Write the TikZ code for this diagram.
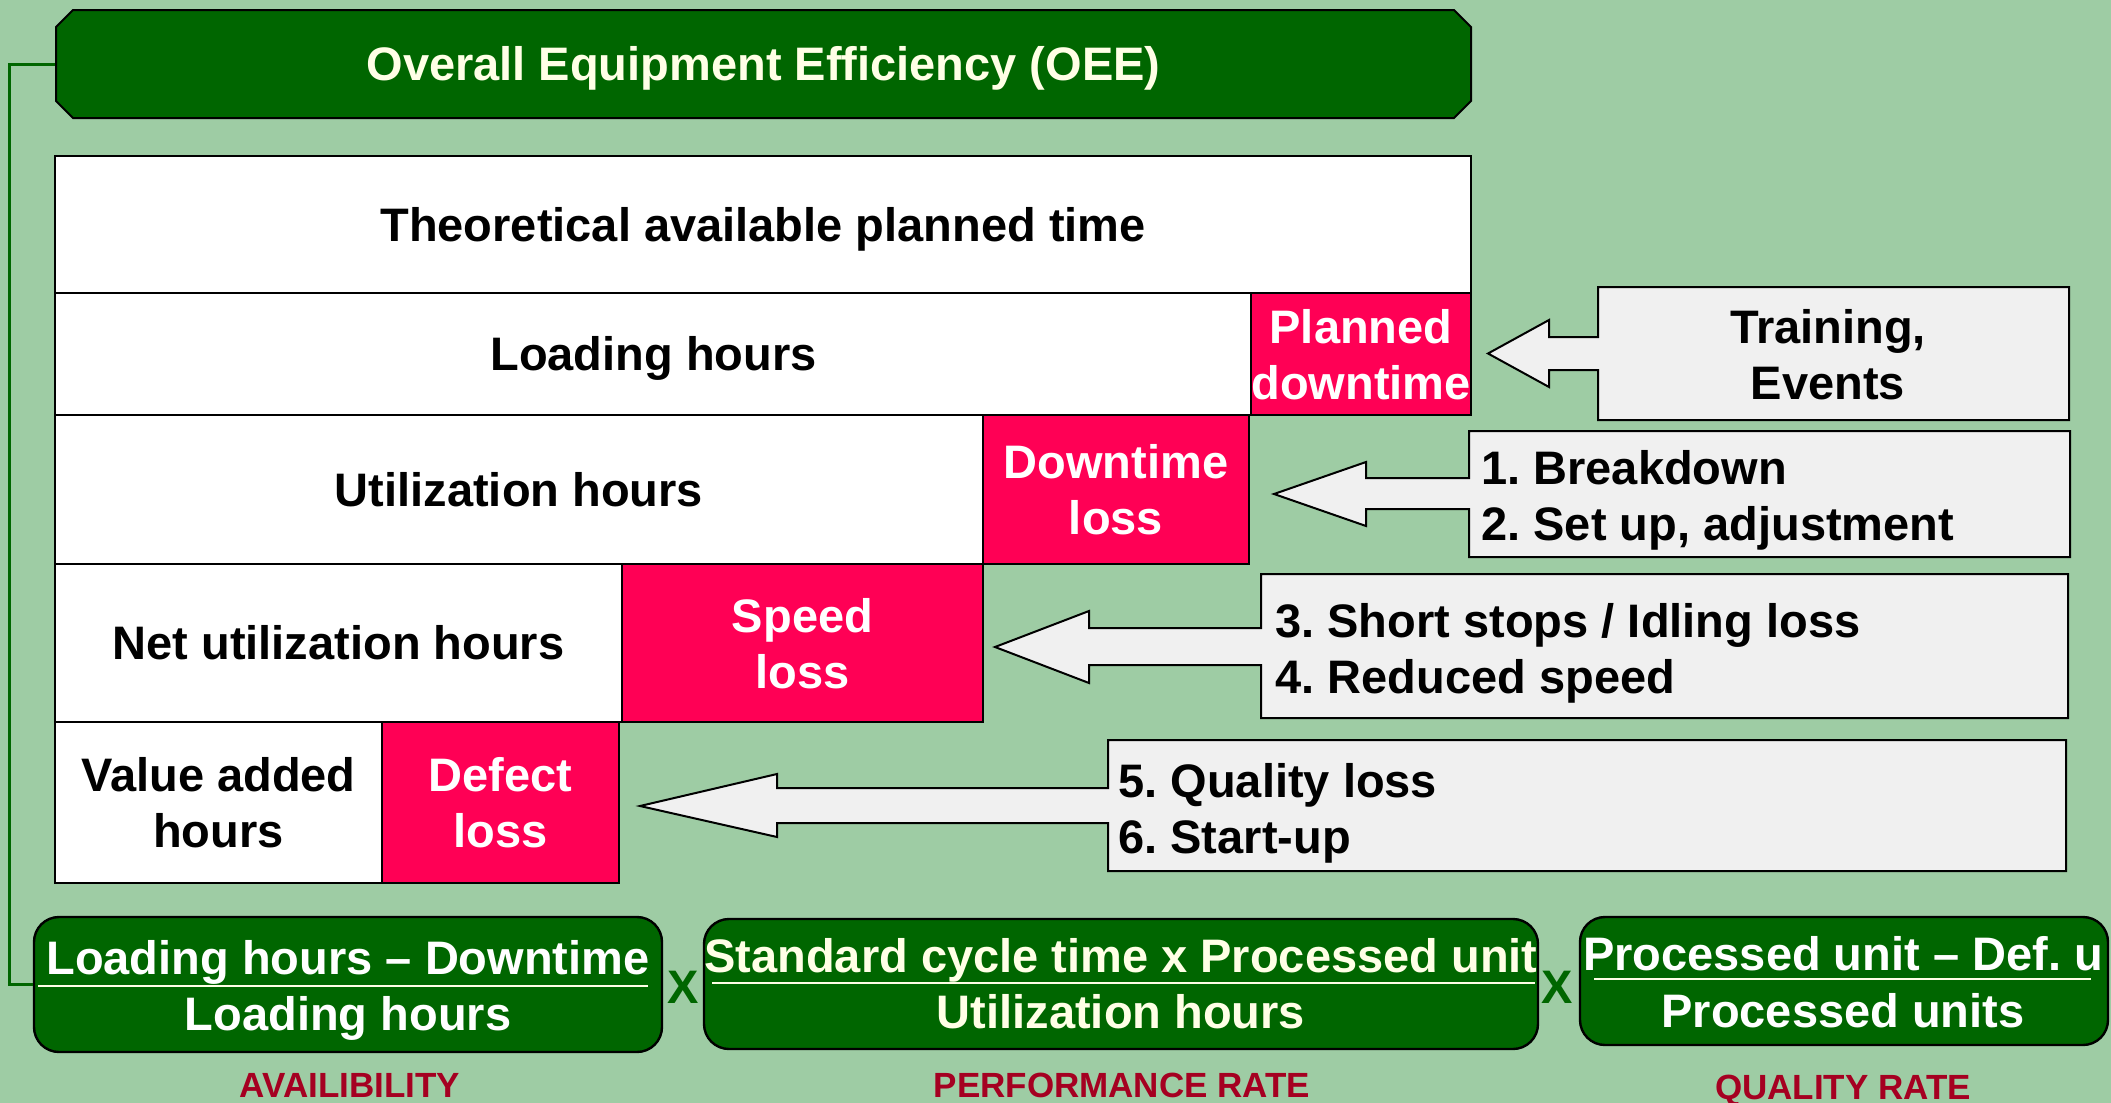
\documentclass[tikz,border=0pt]{standalone}
\usepackage{fontspec}
\setmainfont{Liberation Sans}
\usetikzlibrary{shapes.misc}
\definecolor{bgc}{HTML}{9ECCA4}
\definecolor{dkg}{HTML}{006600}
\definecolor{pnk}{HTML}{FF0055}
\definecolor{lgray}{HTML}{F0F0F0}
\definecolor{lblred}{HTML}{A50021}
\definecolor{ivory}{HTML}{FFFFE6}
\frenchspacing
\begin{document}
\frenchspacing
\begin{tikzpicture}[x=0.5pt,y=-0.5pt,
  fnt/.style={font=\fontsize{23.5}{28}\selectfont\bfseries\frenchspacing},
  one/.style={text height=16.8pt,text depth=0pt},
  two/.style={align=center,text depth=0pt},
  cellw/.style={draw=black,line width=1pt,fill=white,inner sep=0pt,fnt,text=black},
  cellp/.style={draw=black,line width=1pt,fill=pnk,inner sep=0pt,fnt,text=white},
  callout/.style={draw=black,line width=1pt,fill=lgray,line join=miter},
  ctext/.style={fnt,inner sep=0pt,text=black,text depth=0pt},
  fbox/.style={draw=black,line width=1.2pt,fill=dkg,rounded corners=12.5pt,inner sep=0pt},
  ftext/.style={fnt,one,inner sep=0pt,text=white},
  fracline/.style={draw=ivory,line width=1pt},
  timesx/.style={fnt,one,inner sep=0pt,text=dkg},
  lbl/.style={font=\fontsize{17.5}{20}\selectfont\bfseries,text=lblred,text height=12.5pt,text depth=0pt,inner sep=0pt},
  conn/.style={draw=dkg,line width=1.5pt},
  banner/.style={chamfered rectangle,chamfered rectangle xsep=4.25pt,chamfered rectangle ysep=4.25pt,draw=black,line width=1pt,fill=dkg,inner sep=0pt,fnt,one,text=ivory}
]
\useasboundingbox (0,0) rectangle (2111,1103);
\fill[bgc] (0,0) rectangle (2111,1103);

% title banner
\node[banner,minimum width=707.5pt,minimum height=54pt] (banner) at (763.5,64) {Overall Equipment Efficiency (OEE)};

% rows
\node[cellw,one,minimum width=708pt,minimum height=68.5pt] (theo) at (763,224.5) {Theoretical available planned time};
\node[cellw,one,minimum width=598.5pt,minimum height=61pt] (load) at (653.5,354) {Loading hours};
\node[cellp,two,minimum width=109pt,minimum height=61pt] (plan) at (1361,354) {Planned\\downtime};
\node[cellw,one,minimum width=464pt,minimum height=74.5pt] (util) at (519,489.5) {Utilization hours};
\node[cellp,two,minimum width=133pt,minimum height=74.5pt] (down) at (1116,489.5) {Downtime\\loss};
\node[cellw,one,minimum width=283.5pt,minimum height=79pt] (net) at (338.5,643) {Net utilization hours};
\node[cellp,two,minimum width=180.5pt,minimum height=79pt] (speed) at (802.5,643) {Speed\\loss};
\node[cellw,two,minimum width=163.5pt,minimum height=80.5pt] (value) at (218.5,802.5) {Value added\\hours};
\node[cellp,two,minimum width=118.5pt,minimum height=80.5pt] (defect) at (500.5,802.5) {Defect\\loss};

% callouts
\draw[callout] (1598,287) -- (2069,287) -- (2069,420) -- (1598,420) -- (1598,370) -- (1549,370) -- (1549,387) -- (1488,353.5) -- (1549,320) -- (1549,337) -- (1598,337) -- cycle;
\node[ctext,align=center] (c1) at (1828,354) {Training,\\Events};

\draw[callout] (1469,431) -- (2070,431) -- (2070,557) -- (1469,557) -- (1469,509) -- (1366,509) -- (1366,526) -- (1274,494) -- (1366,462) -- (1366,478) -- (1469,478) -- cycle;
\node[ctext,align=left,anchor=west] (c2) at (1481,495) {1. Breakdown\\2. Set up, adjustment};

\draw[callout] (1261,574) -- (2068,574) -- (2068,718) -- (1261,718) -- (1261,665) -- (1089,665) -- (1089,683) -- (995,647) -- (1089,611) -- (1089,628) -- (1261,628) -- cycle;
\node[ctext,align=left,anchor=west] (c3) at (1275,648) {3. Short stops / Idling loss\\4. Reduced speed};

\draw[callout] (1108,740) -- (2066,740) -- (2066,871) -- (1108,871) -- (1108,823) -- (777,823) -- (777,837) -- (640,806) -- (777,774) -- (777,788) -- (1108,788) -- cycle;
\node[ctext,align=left,anchor=west] (c4) at (1118,808.5) {5. Quality loss\\6. Start-up};

% formula boxes
\node[fbox,minimum width=314pt,minimum height=67.5pt] (f1) at (348,984.5) {};
\node[ftext] (f1n) at (348,958) {Loading hours – Downtime};
\node[ftext] (f1d) at (348,1014) {Loading hours};
\draw[fracline] (38,986) -- (648,986);

\node[fbox,minimum width=417pt,minimum height=65pt] (f2) at (1121,984) {};
\node[ftext,text=ivory] (f2n) at (1121,956) {Standard cycle time x Processed unit};
\node[ftext,text=ivory] (f2d) at (1121,1012) {Utilization hours};
\draw[fracline] (712,983) -- (1535,983);

\node[fbox,minimum width=264pt,minimum height=64pt] (f3) at (1844,981) {};
\node[ftext] (f3n) at (1843,954) {Processed unit – Def. u};
\node[ftext] (f3d) at (1843,1011) {Processed units};
\draw[fracline] (1594,979) -- (2091,979);

\node[timesx] (x1) at (683,987) {X};
\node[timesx] (x2) at (1557,987) {X};

\node[lbl] (l1) at (350,1085) {AVAILIBILITY};
\node[lbl] (l2) at (1122,1085) {PERFORMANCE RATE};
\node[lbl] (l3) at (1843,1087) {QUALITY RATE};

% connector
\draw[conn] (banner.west) -- ++(-46,0) |- (f1.west);
\end{tikzpicture}
\end{document}
